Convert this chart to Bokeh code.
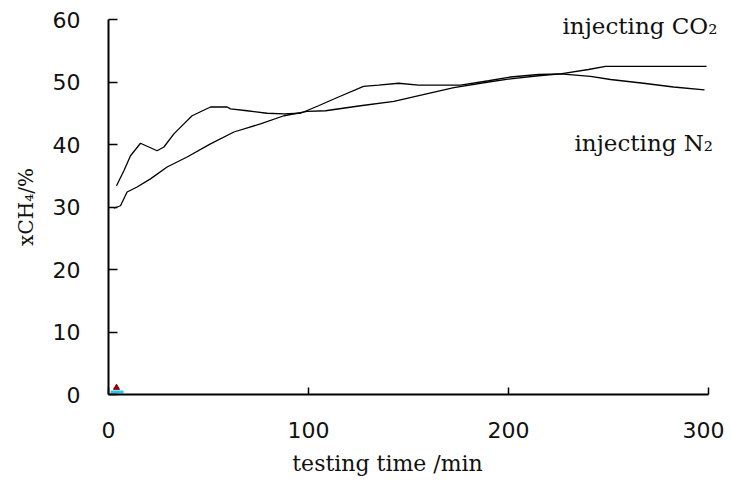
from bokeh.plotting import figure
from bokeh.models import Range1d, FixedTicker, Label
from bokeh.embed import file_html
from bokeh.resources import INLINE

# injecting N2 (bumpy curve, starts ~33.5)
n2_time = [4, 7.7, 11, 16, 24.3, 27.7, 32.7, 37.7, 41.8, 51, 59.3, 61, 69.3, 79.3, 87.7, 96,
           105, 115, 127.5, 135, 145, 155, 176, 190, 201, 215, 226, 241, 251, 267.5, 282.5, 298]
n2_xch4 = [33.4, 35.8, 38.2, 40.2, 39.0, 39.6, 41.7, 43.3, 44.6, 46.0, 46.0, 45.7, 45.4, 45.0, 44.9, 45.0,
           46.2, 47.6, 49.3, 49.5, 49.8, 49.5, 49.5, 50.2, 50.8, 51.2, 51.3, 50.9, 50.4, 49.8, 49.2, 48.75]

# injecting CO2 (smooth curve, starts ~30)
co2_time = [2.7, 6, 9.3, 14.3, 21, 29.3, 39.3, 51, 62.7, 76, 87.7, 99.3, 108.5, 126, 142.7, 159,
            172.7, 190, 201, 215, 226, 240, 248.5, 299]
co2_xch4 = [29.8, 30.2, 32.4, 33.2, 34.5, 36.4, 38.0, 40.1, 42.0, 43.3, 44.6, 45.3, 45.4, 46.2, 46.9, 48.1,
            49.1, 50.0, 50.5, 51.0, 51.3, 52.0, 52.5, 52.5]

x_ticks = [0, 100, 200, 300]
y_ticks = [0, 10, 20, 30, 40, 50, 60]

# small stray marker cluster near origin
mark_x = [4.3]
mark_y = [0.4]

# The frame covers the whole figure (2 px per minute, 6.25 px per percent);
# both axes are pinned at 0 so that all their texts sit inside the frame.
p = figure(width=724, height=480, output_backend="svg", toolbar_location=None,
           x_range=Range1d(-54, 308), y_range=Range1d(-13.76, 63.04),
           min_border_left=0, min_border_right=0, min_border_top=0, min_border_bottom=0)
p.outline_line_color = None
p.grid.grid_line_color = None
p.background_fill_color = "white"

p.line(n2_time, n2_xch4, line_color="black", line_width=1.3)
p.line(co2_time, co2_xch4, line_color="black", line_width=1.3)

p.scatter(mark_x, mark_y, marker="dash", size=13, line_color="#22c8f0", line_width=3)
p.scatter([x - 0.3 for x in mark_x], [v + 0.7 for v in mark_y], marker="triangle", size=6,
          fill_color="#8b0000", line_color="#8b0000")

for ax in (p.xaxis[0], p.yaxis[0]):
    ax.axis_line_color = "black"
    ax.axis_line_width = 2
    ax.major_tick_line_color = "black"
    ax.major_tick_line_width = 1.5
    ax.major_tick_out = 0
    ax.minor_tick_line_color = None
    ax.major_label_text_font = "DejaVu Sans"
    ax.major_label_text_font_size = "22px"
    ax.major_label_text_color = "#111111"
    ax.axis_label_text_font = "DejaVu Serif"
    ax.axis_label_text_font_style = "normal"
    ax.axis_label_text_color = "#111111"

p.xaxis.fixed_location = 0
p.yaxis.fixed_location = 0
p.xaxis.bounds = (0, 300)
p.yaxis.bounds = (0, 60)
p.xaxis.axis_label_text_font_size = "22px"
p.yaxis.axis_label_text_font_size = "20px"
p.xaxis.ticker = FixedTicker(ticks=x_ticks)
p.yaxis.ticker = FixedTicker(ticks=y_ticks)
p.xaxis.major_tick_in = 7
p.yaxis.major_tick_in = 9
p.xaxis.major_label_standoff = 27
p.yaxis.major_label_standoff = 28
p.xaxis.axis_label = "testing time  /min" + "\u00a0" * 5
p.yaxis.axis_label = "xCH\u2084/%"
p.xaxis.axis_label_standoff = 10
p.yaxis.axis_label_standoff = 12

p.add_layout(Label(x=227, y=59, text="injecting CO\u2082", text_font="DejaVu Serif",
                   text_font_size="23px", text_color="#111111", text_baseline="middle"))
p.add_layout(Label(x=233, y=40.2, text="injecting N\u2082", text_font="DejaVu Serif",
                   text_font_size="23px", text_color="#111111", text_baseline="middle"))

open("out.html", "w").write(file_html(p, INLINE))
